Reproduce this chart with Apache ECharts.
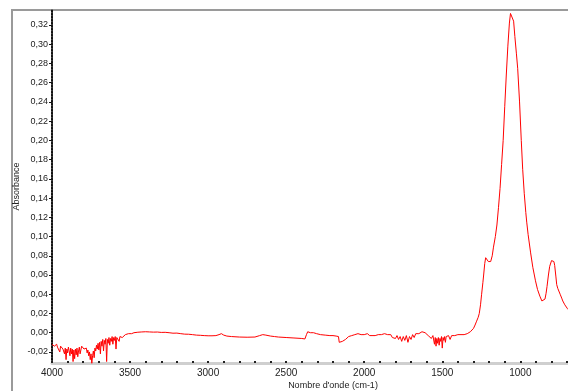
<!DOCTYPE html>
<html>
<head>
<meta charset="utf-8">
<script src="https://cdn.jsdelivr.net/npm/echarts@6/dist/echarts.min.js"></script>
<style>html,body{margin:0;padding:0;background:#fff;overflow:hidden}#c{width:620px;height:391px}</style>
</head>
<body>
<div id="c"></div>
<script>
const wavenumbers = [4000,3995,3990,3985,3980,3975,3970,3965,3960,3955,3950,3945,3940,3935,3930,3925,3920,3915,3910,3905,3900,3895,3890,3885,3880,3875,3870,3865,3860,3855,3850,3845,3840,3835,3830,3825,3820,3815,3810,3805,3800,3795,3790,3785,3780,3775,3770,3765,3760,3755,3750,3745,3740,3735,3730,3725,3720,3715,3710,3705,3700,3695,3690,3685,3680,3675,3670,3665,3660,3655,3650,3645,3640,3635,3630,3625,3620,3615,3610,3605,3600,3595,3590,3585,3580,3575,3570,3565,3560,3555,3550,3545,3540,3530,3520,3510,3500,3490,3475,3450,3425,3400,3375,3350,3325,3300,3275,3250,3225,3200,3175,3150,3125,3100,3075,3050,3025,3000,2975,2950,2930,2915,2900,2880,2850,2800,2750,2700,2670,2650,2630,2600,2575,2550,2500,2450,2400,2380,2370,2362,2355,2345,2335,2325,2315,2305,2295,2280,2250,2220,2200,2180,2165,2160,2150,2140,2130,2120,2110,2100,2090,2080,2070,2060,2050,2040,2030,2020,2010,2000,1990,1980,1972,1965,1958,1950,1940,1930,1920,1910,1900,1890,1880,1870,1860,1850,1840,1830,1820,1810,1800,1790,1780,1770,1760,1750,1740,1730,1720,1710,1700,1690,1680,1670,1660,1650,1640,1630,1620,1610,1600,1590,1580,1570,1560,1550,1545,1540,1535,1530,1525,1520,1515,1510,1505,1500,1495,1490,1485,1480,1475,1470,1460,1450,1440,1430,1420,1410,1400,1390,1380,1370,1360,1350,1340,1330,1320,1310,1300,1290,1280,1270,1263,1255,1248,1240,1235,1228,1222,1218,1212,1205,1198,1190,1180,1172,1160,1150,1140,1130,1120,1110,1100,1090,1080,1070,1063,1058,1052,1043,1035,1025,1017,1005,994,985,975,965,959,950,934,920,903,890,875,862,852,842,835,829,820,812,800,791,785,780,772,767,760,756,745,735,728,715,698,680,660];
const absorbance = [-0.012,-0.013,-0.012,-0.014,-0.013,-0.013,-0.012,-0.015,-0.013,-0.014,-0.020,-0.014,-0.016,-0.013,-0.017,-0.015,-0.022,-0.016,-0.028,-0.017,-0.021,-0.015,-0.019,-0.024,-0.016,-0.022,-0.017,-0.030,-0.018,-0.027,-0.017,-0.023,-0.016,-0.025,-0.019,-0.015,-0.022,-0.018,-0.014,-0.016,-0.013,-0.017,-0.015,-0.019,-0.016,-0.021,-0.018,-0.024,-0.020,-0.028,-0.022,-0.032,-0.024,-0.019,-0.026,-0.016,-0.019,-0.013,-0.017,-0.011,-0.018,-0.010,-0.022,-0.009,-0.014,-0.007,-0.019,-0.008,-0.012,-0.006,-0.030,-0.007,-0.011,-0.005,-0.013,-0.006,-0.009,-0.004,-0.012,-0.005,-0.008,-0.004,-0.017,-0.005,-0.007,-0.003,-0.009,-0.004,-0.006,-0.002,-0.005,-0.003,-0.004,-0.002,-0.003,-0.001,-0.002,-0.001,0.000,0.0005,0.0008,0.001,0.0008,0.0006,0.0007,0.0003,0.0004,0.0000,-0.0005,-0.0004,-0.001,-0.0015,-0.0016,-0.002,-0.0025,-0.0027,-0.003,-0.0032,-0.0032,-0.003,-0.002,-0.001,-0.0025,-0.0035,-0.004,-0.0045,-0.0047,-0.0045,-0.003,-0.002,-0.0025,-0.0035,-0.004,-0.0045,-0.005,-0.0055,-0.006,-0.0065,-0.002,0.001,-0.001,0.000,-0.001,0.000,0.002,-0.001,-0.002,-0.002,-0.0025,-0.003,-0.003,-0.0035,-0.004,-0.010,-0.011,-0.009,-0.009,-0.007,-0.006,-0.004,-0.005,-0.003,-0.004,-0.002,-0.003,-0.001,-0.003,-0.002,-0.003,-0.002,-0.004,-0.001,0.001,-0.003,-0.005,-0.003,-0.004,-0.003,-0.004,-0.002,-0.003,-0.002,-0.003,-0.001,-0.003,-0.002,-0.004,-0.002,-0.005,-0.003,-0.006,-0.003,-0.007,-0.004,-0.009,-0.004,-0.008,-0.003,-0.010,-0.004,-0.007,-0.002,-0.005,-0.001,-0.003,-0.001,0.001,0.001,-0.001,0.000,-0.002,-0.003,-0.002,-0.006,-0.003,-0.012,-0.005,-0.014,-0.006,-0.011,-0.005,-0.013,-0.006,-0.009,-0.004,-0.016,-0.005,-0.008,-0.004,-0.010,-0.004,-0.006,-0.003,-0.007,-0.003,-0.005,-0.003,-0.004,-0.002,-0.003,-0.002,-0.003,-0.002,-0.0015,-0.001,0.000,0.001,0.002,0.0045,0.008,0.012,0.016,0.020,0.029,0.040,0.052,0.060,0.072,0.078,0.080,0.078,0.074,0.072,0.074,0.080,0.089,0.100,0.112,0.130,0.150,0.175,0.200,0.235,0.268,0.298,0.322,0.332,0.334,0.332,0.324,0.308,0.290,0.275,0.240,0.200,0.170,0.145,0.125,0.115,0.102,0.083,0.068,0.054,0.045,0.038,0.033,0.032,0.035,0.041,0.048,0.060,0.069,0.075,0.076,0.074,0.070,0.058,0.050,0.046,0.045,0.040,0.036,0.033,0.029,0.025,0.022,0.020];
const xTickLabels = [1000,1500,2000,2500,3000,3500,4000];
const xMinorTicks = [];
for (let v = 500; v <= 4000; v += 100) xMinorTicks.push(v);
const yTickLabels = [-0.02,0.00,0.02,0.04,0.06,0.08,0.10,0.12,0.14,0.16,0.18,0.20,0.22,0.24,0.26,0.28,0.30,0.32];

const chart = echarts.init(document.getElementById('c'), null, {renderer: 'canvas'});
const font = 'Liberation Sans, Arial, sans-serif';
chart.setOption({
  animation: false,
  backgroundColor: '#fff',
  grid: {left: 52, top: 10, bottom: 28, right: 6, containLabel: false, outerBoundsMode: 'none'},
  graphic: [
    {type: 'line', shape: {x1: 12, y1: 10, x2: 12, y2: 391}, style: {stroke: '#9a9a9a', lineWidth: 2}, z: 0},
    {type: 'line', shape: {x1: 11, y1: 10, x2: 620, y2: 10}, style: {stroke: '#9a9a9a', lineWidth: 2}, z: 0}
  ],
  xAxis: {
    type: 'value', min: 400, max: 4000, inverse: true,
    name: "Nombre d'onde (cm-1)", nameLocation: 'middle', nameGap: 18, nameMoveOverlap: false,
    nameTextStyle: {fontFamily: font, fontSize: 9, color: '#222'},
    axisLine: {onZero: false, lineStyle: {color: '#cfcfcf', width: 3}},
    axisTick: {show: true, inside: true, length: 2, customValues: xMinorTicks, lineStyle: {color: '#222', width: 2}},
    axisLabel: {customValues: xTickLabels, fontFamily: font, fontSize: 10, color: '#222', margin: 5,
      formatter: v => String(v)},
    splitLine: {show: false}
  },
  yAxis: {
    type: 'value', min: -0.0315, max: 0.3356,
    name: 'Absorbance', nameLocation: 'middle', nameGap: 31, nameRotate: 90, nameMoveOverlap: false,
    nameTextStyle: {fontFamily: font, fontSize: 9, color: '#222'},
    axisLine: {show: true, onZero: false, lineStyle: {color: '#111', width: 2, type: [1.5, 1.5]}},
    axisTick: {show: true, length: 3, customValues: yTickLabels, lineStyle: {color: '#111', width: 1}},
    axisLabel: {customValues: yTickLabels, fontFamily: font, fontSize: 9, color: '#222', margin: 4,
      formatter: v => v.toFixed(2).replace('.', ',')},
    splitLine: {show: false}
  },
  series: [{
    type: 'line', showSymbol: false, symbol: 'none',
    data: wavenumbers.map((w, i) => [w, absorbance[i]]),
    lineStyle: {color: '#ff0000', width: 1},
    clip: true
  }]
});
</script>
</body>
</html>
